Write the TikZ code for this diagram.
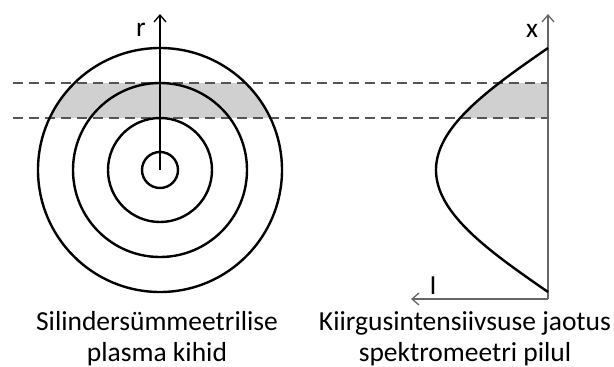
\documentclass[tikz,border=0pt]{standalone}
\usepackage{fontspec}
\setmainfont{Carlito}
\usetikzlibrary{arrows.meta}
\definecolor{bandgray}{HTML}{D0D0D0}
\definecolor{dashgray}{HTML}{555555}
\definecolor{axisgray}{HTML}{666666}
\begin{document}
\begin{tikzpicture}[x=1pt,y=-1pt,
  ring/.style={circle, draw=black, line width=2.4pt, inner sep=0pt},
  axisline/.style={line width=1.3pt, -{Straight Barb[length=7pt,width=12pt,line width=1.3pt]}},
  cut/.style={draw=dashgray, line width=1.3pt, dash pattern=on 10pt off 6pt},
  lbl/.style={font=\fontsize{27.5}{29}\selectfont, inner sep=0pt, anchor=center},
  caption/.style={font=\fontsize{27.5}{31}\selectfont, align=center, inner sep=0pt, anchor=base}]
\useasboundingbox (0,0) rectangle (614,367);
% gray band, left
\begin{scope}
  \clip (160,170) circle[radius=122];
  \fill[bandgray] (30,83) rectangle (290,118);
\end{scope}
% gray band, right
\fill[bandgray] plot[domain=-64.18:-38.36, samples=30, smooth] ({548-112*cos(\x)},{170+122*\x/90}) -- (548,118) -- (548,83) -- cycle;
% dashed lines
\coordinate (d1a) at (13,83);
\coordinate (d1b) at (548,83);
\coordinate (d2a) at (13,118);
\coordinate (d2b) at (548,118);
\draw[cut] (d1a) -- (d1b);
\draw[cut] (d2a) -- (d2b);
% circles
\coordinate (O) at (160,170);
\node[ring, minimum size=244pt] (c1) at (O) {};
\node[ring, minimum size=174pt] (c2) at (O) {};
\node[ring, minimum size=104pt] (c3) at (O) {};
\node[ring, minimum size=36pt] (c4) at (O) {};
% r axis
\coordinate (rtop) at (160,14);
\draw[axisline, black] (O) -- (rtop);
\node[lbl] (r) at (141,30) {r};
% right axes
\coordinate (A) at (548,299);
\coordinate (xtop) at (548,14);
\coordinate (Iend) at (411,299);
\draw[axisline, draw=axisgray] (A) -- (xtop);
\draw[axisline, draw=axisgray] (A) -- (Iend);
\node[lbl] (xl) at (532,31) {x};
\node[lbl] (Il) at (433,286) {I};
% intensity curve
\draw[line width=2.4pt] plot[domain=-90:90, samples=80, smooth] ({548-112*cos(\x)},{170+122*\x/90});
% captions
\node[caption] (cap1) at (157,361) {Silindersümmeetrilise\\plasma kihid};
\node[caption] (cap2) at (465,361) {Kiirgusintensiivsuse jaotus\\spektromeetri pilul};
\end{tikzpicture}
\end{document}
